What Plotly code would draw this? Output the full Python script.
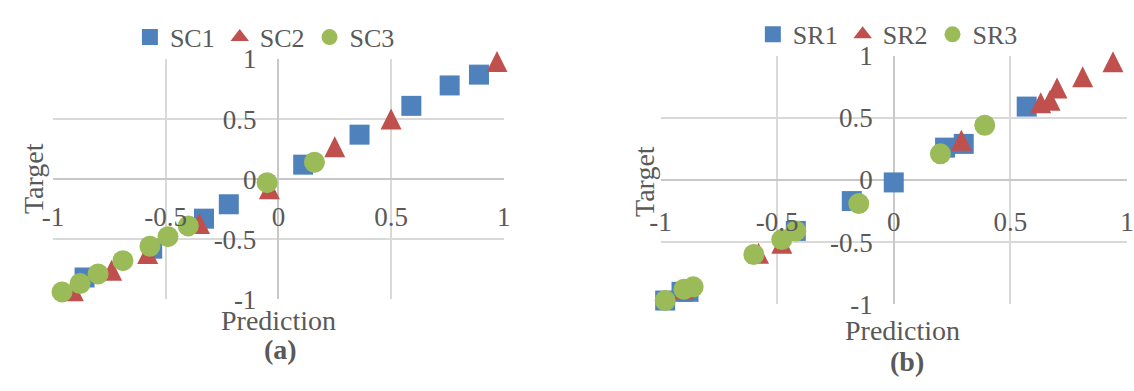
import plotly.graph_objects as go

# ---- data: panel (a) ----
sc1_x = [0.11, 0.36, 0.59, 0.76, 0.89, -0.22, -0.33, -0.56, -0.86]
sc1_y = [0.12, 0.37, 0.61, 0.78, 0.87, -0.21, -0.33, -0.58, -0.82]
sc2_x = [0.97, 0.50, 0.25, -0.04, -0.35, -0.58, -0.74, -0.91]
sc2_y = [0.98, 0.50, 0.27, -0.08, -0.37, -0.62, -0.76, -0.93]
sc3_x = [0.16, -0.05, -0.40, -0.49, -0.57, -0.69, -0.80, -0.88, -0.96]
sc3_y = [0.14, -0.03, -0.39, -0.48, -0.56, -0.68, -0.79, -0.87, -0.94]

# ---- data: panel (b) ----
sr1_x = [0.00, 0.22, 0.30, 0.57, -0.18, -0.42, -0.88, -0.91, -0.98]
sr1_y = [-0.02, 0.26, 0.29, 0.59, -0.17, -0.41, -0.90, -0.90, -0.97]
sr2_x = [0.94, 0.81, 0.70, 0.67, 0.63, 0.29, -0.48, -0.58, -0.90]
sr2_y = [0.95, 0.83, 0.74, 0.64, 0.62, 0.32, -0.51, -0.59, -0.88]
sr3_x = [0.39, 0.20, -0.15, -0.42, -0.48, -0.60, -0.86, -0.90, -0.98]
sr3_y = [0.44, 0.21, -0.19, -0.41, -0.48, -0.60, -0.86, -0.88, -0.97]

tick_vals = [-1, -0.5, 0, 0.5, 1]
tick_text = ["-1", "-0.5", "0", "0.5", "1"]

W, H = 1134, 391
FONT = "Liberation Serif, Times New Roman, DejaVu Serif, serif"
GREY = "#595959"
BLUE, RED, GREEN = "#4F81BD", "#C0504D", "#9BBB59"


def px_x(p):
    return p / W


def px_y(p):
    return 1 - p / H


def marker_style(kind, col, size):
    if kind == "triangle":
        # upright isosceles triangle: a flipped arrow head, centred on the point
        return dict(symbol="arrow-down", size=size, angle=180,
                    standoff=size / 2, color=col, line=dict(width=0))
    return dict(symbol=kind, size=size, color=col, line=dict(width=0))


fig = go.Figure()

series = [
    ("SC1", sc1_x, sc1_y, "square", 20, BLUE, "x", "y", "legend"),
    ("SC2", sc2_x, sc2_y, "triangle", 21, RED, "x", "y", "legend"),
    ("SC3", sc3_x, sc3_y, "circle", 21, GREEN, "x", "y", "legend"),
    ("SR1", sr1_x, sr1_y, "square", 20, BLUE, "x2", "y2", "legend2"),
    ("SR2", sr2_x, sr2_y, "triangle", 21, RED, "x2", "y2", "legend2"),
    ("SR3", sr3_x, sr3_y, "circle", 21, GREEN, "x2", "y2", "legend2"),
]
for rank, (name, xs, ys, kind, size, col, xa, ya, lg) in enumerate(series):
    fig.add_trace(go.Scatter(
        x=xs, y=ys, mode="markers", name=name, cliponaxis=False,
        marker=marker_style(kind, col, size),
        xaxis=xa, yaxis=ya, legend=lg, legendrank=rank + 1,
        showlegend=(kind != "triangle"),
    ))
    if kind == "triangle":
        # legend key for the triangle series
        fig.add_trace(go.Scatter(
            x=[None], y=[None], mode="markers", name=name,
            marker=dict(symbol="triangle-up", size=16, color=col,
                        line=dict(width=0)),
            xaxis=xa, yaxis=ya, legend=lg, legendrank=rank + 1,
        ))

grid = dict(
    range=[-1, 1], tickvals=tick_vals, ticktext=tick_text,
    showgrid=True, gridcolor="#D9D9D9", gridwidth=1.5,
    zeroline=True, zerolinecolor="#C8C8C8", zerolinewidth=1.5,
    showline=False, ticks="", fixedrange=True,
    tickfont=dict(family=FONT, size=27, color=GREY),
)

# panel (a) geometry in pixels
a_left, a_right, a_top, a_bot = 42.7, 500.7, 47.7, 307.7
a_x0, a_y0 = 271.7, 177.7
# panel (b) geometry in pixels
b_left, b_right, b_top, b_bot = 660.0, 1134.0, 44.0, 313.3
b_x0, b_y0 = 898.0, 179.3

fig.update_layout(
    width=W, height=H,
    margin=dict(l=0, r=0, t=0, b=0),
    paper_bgcolor="white", plot_bgcolor="white",
    font=dict(family=FONT, size=26, color=GREY),
    xaxis=dict(grid, domain=[px_x(a_left), px_x(a_right)], anchor="free",
               position=px_y(a_y0), ticklabelstandoff=19),
    yaxis=dict(grid, domain=[px_y(a_bot), px_y(a_top)], anchor="free",
               position=px_x(a_x0), ticklabelstandoff=22),
    xaxis2=dict(grid, domain=[px_x(b_left), 1.0], anchor="free",
                position=px_y(b_y0), ticklabelstandoff=22),
    yaxis2=dict(grid, domain=[px_y(b_bot), px_y(b_top)], anchor="free",
                position=px_x(b_x0), ticklabelstandoff=22),
    legend=dict(orientation="h", x=px_x(258), y=px_y(24), xanchor="center",
                yanchor="middle", bgcolor="rgba(0,0,0,0)",
                font=dict(family=FONT, size=26, color=GREY)),
    legend2=dict(orientation="h", x=px_x(891), y=px_y(21), xanchor="center",
                 yanchor="middle", bgcolor="rgba(0,0,0,0)",
                 font=dict(family=FONT, size=26, color=GREY)),
)

labels = [
    ("Target", 23, 177, -90, False),
    ("Prediction", 271.7, 331, 0, False),
    ("(a)", 274, 362.7, 0, True),
    ("Target", 643, 180, -90, False),
    ("Prediction", 906, 342, 0, False),
    ("(b)", 910, 375, 0, True),
]
for text, x, y, ang, bold in labels:
    fig.add_annotation(
        text=f"<b>{text}</b>" if bold else text,
        x=px_x(x), y=px_y(y), xref="paper", yref="paper",
        xanchor="center", yanchor="middle", showarrow=False,
        textangle=ang, font=dict(family=FONT, size=28, color=GREY),
    )

fig.write_html("out.html")
